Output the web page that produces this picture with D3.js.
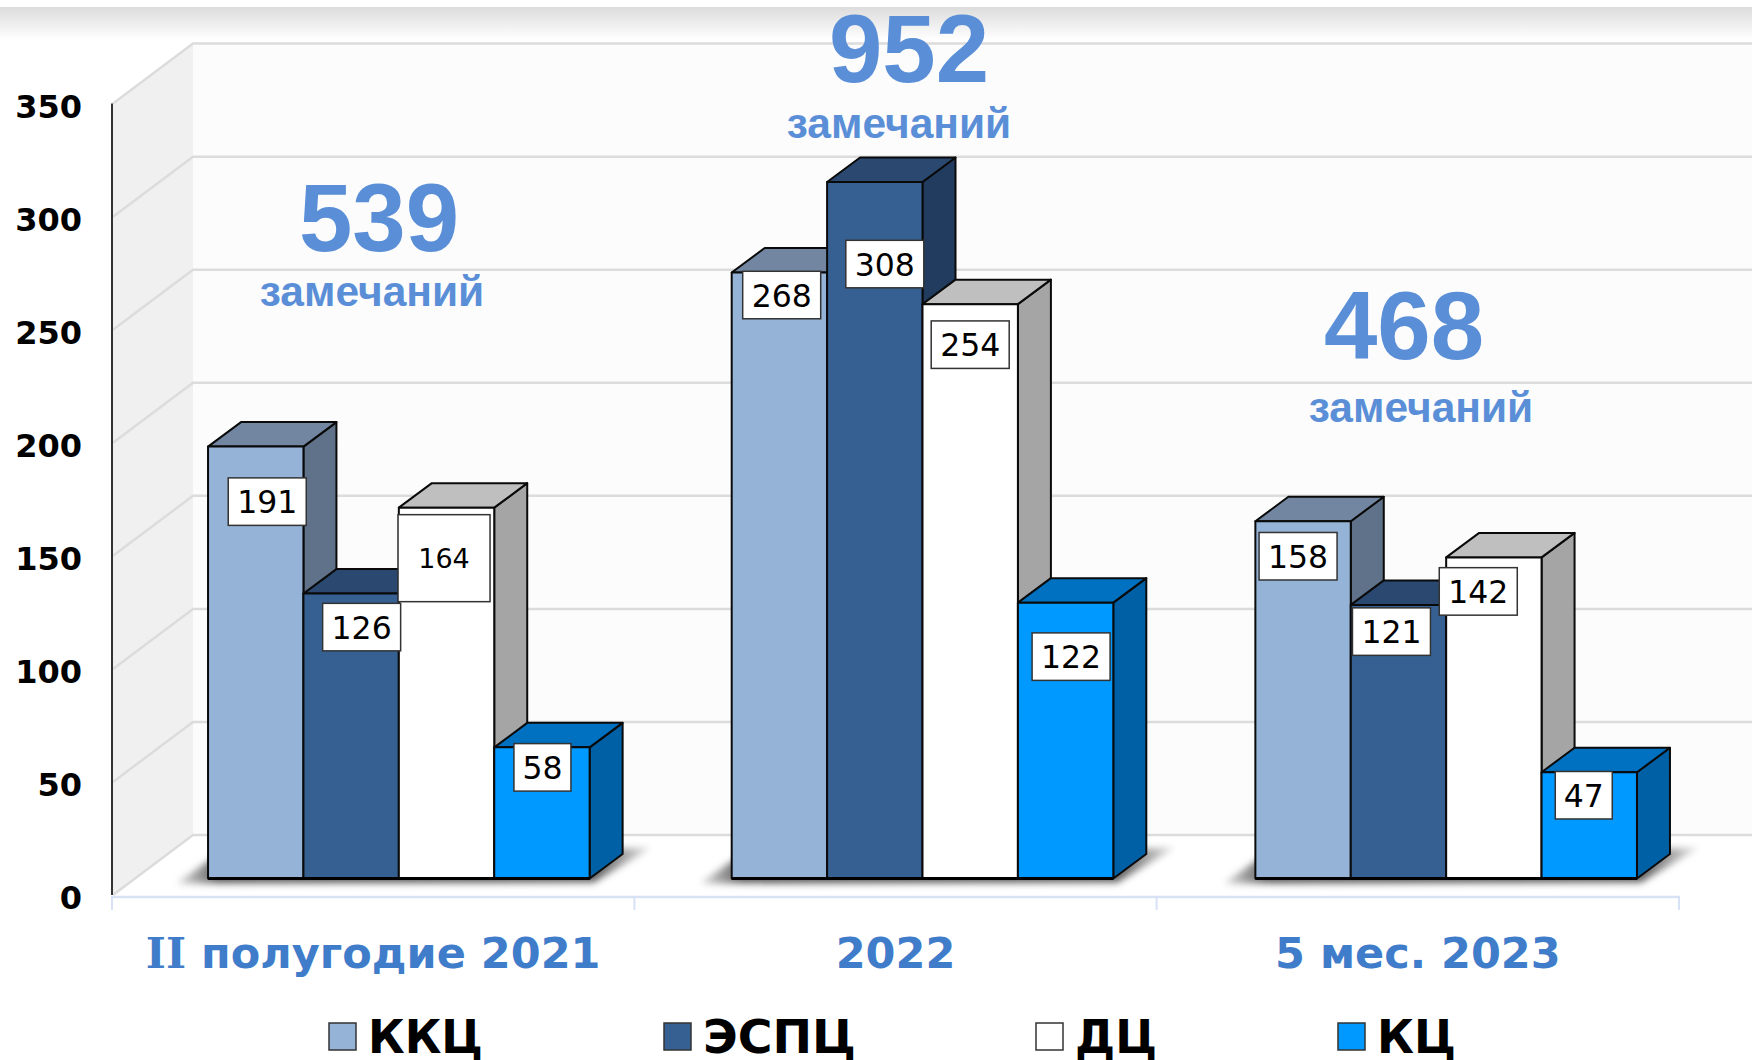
<!DOCTYPE html>
<html><head><meta charset="utf-8">
<style>html,body{margin:0;padding:0;background:#fff}svg{display:block}</style>
<script src="https://cdnjs.cloudflare.com/ajax/libs/d3/7.8.5/d3.min.js"></script>
</head><body><svg id="c" width="1752" height="1060"></svg>
<script>
const categories = ["II полугодие 2021", "2022", "5 мес. 2023"];
const seriesNames = ["ККЦ", "ЭСПЦ", "ДЦ", "КЦ"];
const kkc = [191, 268, 158];
const espc = [126, 308, 121];
const dc = [164, 254, 142];
const kc = [58, 122, 47];
const totals = [539, 952, 468];
const totalWord = "замечаний";
const yTicks = [0, 50, 100, 150, 200, 250, 300, 350];

const values = [kkc, espc, dc, kc];
const frontCol = ["#95b3d7", "#366092", "#ffffff", "#0099ff"];
const topCol = ["#7286a2", "#2a4870", "#bfbfbf", "#0070c0"];
const sideCol = ["#5f7289", "#223c5f", "#a5a5a5", "#0060a5"];
// label box centre offsets from each bar's front-top centre [series][category]
const labelNudge = [
  [[11.5, 55], [2.3, 22.5], [-5, 35]],
  [[10.5, 33.5], [10, 82], [-7, 26.7]],
  [[-2.5, 50.5], [0, 40.5], [-15.6, 34]],
  [[0.5, 20], [5.5, 54], [-5.5, 23]]
];

const svg = d3.select("#c");
const defs = svg.append("defs");
const tg = defs.append("linearGradient").attr("id", "topfade").attr("x1", 0).attr("x2", 0).attr("y1", 0).attr("y2", 1);
tg.append("stop").attr("offset", 0).attr("stop-color", "#dcdcdc");
tg.append("stop").attr("offset", 1).attr("stop-color", "#ffffff");
const sg = defs.append("linearGradient").attr("id", "shade").attr("x1", 0).attr("x2", 1).attr("y1", 0).attr("y2", 0);
[[0, "#e0e0e0"], [0.09, "#5e5e5e"], [0.88, "#5e5e5e"], [1, "#e8e8e8"]].forEach(s => sg.append("stop").attr("offset", s[0]).attr("stop-color", s[1]));
defs.append("filter").attr("id", "blur").attr("x", "-10%").attr("y", "-30%").attr("width", "120%").attr("height", "160%")
  .append("feGaussianBlur").attr("stdDeviation", 3.5);

const y = d3.scaleLinear().domain([0, 350]).range([895, 103.6]);
const depthX = 81, depthY = 60, barDX = 33, barDY = 24.5;
const baseY = 878.5, wallX = 112 + depthX;
const xAxisScale = d3.scaleBand().domain(categories).range([112, 1679]);
const xGroup = d3.scaleBand().domain(categories).range([137, 1708]).paddingInner(0.2713).paddingOuter(0.13565);
const xBar = d3.scaleBand().domain(d3.range(4)).range([0, xGroup.bandwidth()]);
const h = v => y(0) - y(v);

svg.append("rect").attr("x", 0).attr("y", 7).attr("width", 1752).attr("height", 33).attr("fill", "url(#topfade)");
svg.append("rect").attr("x", wallX).attr("y", y(350) - depthY).attr("width", 1752 - wallX).attr("height", y(0) - y(350)).attr("fill", "#fcfcfc");
svg.append("path").attr("d", d3.line()([[112, y(350)], [wallX, y(350) - depthY], [wallX, y(0) - depthY], [112, y(0)]])).attr("fill", "#f0f0f0");

const grid = svg.append("g").attr("fill", "none").attr("stroke", "#dcdcdc").attr("stroke-width", 2.5);
yTicks.forEach(t => {
  grid.append("path").attr("d", d3.line()([[113, y(t)], [wallX, y(t) - depthY], [1752, y(t) - depthY]]));
});

// shadows
const shadows = svg.append("g").attr("filter", "url(#blur)").attr("fill", "url(#shade)");
categories.forEach(c => {
  const x0 = xGroup(c), x1 = x0 + xGroup.bandwidth();
  shadows.append("path").attr("d", d3.line()([[x0 + 4, baseY - 20], [x0 - 32, baseY + 5], [x1 + 4, baseY + 4], [x1 + 62, baseY - 31], [x1 + 30, baseY - 30], [x1, baseY - 8]]));
});

// bars
categories.forEach((c, ci) => {
  const g = svg.append("g").attr("stroke", "#0a0a0a").attr("stroke-width", 2).attr("stroke-linejoin", "round");
  values.forEach((vals, si) => {
    const xl = xGroup(c) + xBar(si), w = xBar.bandwidth(), top = baseY - h(vals[ci]);
    g.append("path").attr("fill", sideCol[si]).attr("d", d3.line()([[xl + w, top], [xl + w + barDX, top - barDY], [xl + w + barDX, baseY - barDY], [xl + w, baseY]]) + "Z");
    g.append("path").attr("fill", topCol[si]).attr("d", d3.line()([[xl, top], [xl + barDX, top - barDY], [xl + w + barDX, top - barDY], [xl + w, top]]) + "Z");
    g.append("rect").attr("x", xl).attr("y", top).attr("width", w).attr("height", h(vals[ci])).attr("fill", frontCol[si]);
  });
  g.append("line").attr("x1", xGroup(c)).attr("x2", xGroup(c) + xGroup.bandwidth()).attr("y1", baseY).attr("y2", baseY).attr("stroke", "#000").attr("stroke-width", 3);
});

// axes
svg.append("line").attr("x1", 112).attr("x2", 112).attr("y1", y(350)).attr("y2", y(0)).attr("stroke", "#333").attr("stroke-width", 2);
const yAx = svg.append("g").attr("transform", "translate(82,2)")
  .call(d3.axisLeft(y).tickValues(yTicks).tickSize(0).tickPadding(0));
yAx.select(".domain").remove();
yAx.selectAll("text").attr("font-family", "'DejaVu Sans'").attr("font-weight", "bold").attr("font-size", 32).attr("fill", "#000").attr("dy", "0.36em");

const xAx = svg.append("g").attr("transform", "translate(0,896.5)")
  .call(d3.axisBottom(xAxisScale).tickSize(0).tickPadding(0));
xAx.select(".domain").attr("stroke", "#d7e3f5").attr("stroke-width", 2.5);
xAx.selectAll("text").attr("font-family", "'DejaVu Sans'").attr("font-weight", "bold").attr("font-size", 43).attr("fill", "#3f7cca").attr("y", 71.5).attr("dy", 0);
xAx.selectAll("text").filter(d => d.startsWith("II")).each(function(d) {
  const t = d3.select(this); t.text(null);
  t.append("tspan").attr("font-family", "'DejaVu Serif'").text("II");
  t.append("tspan").text(d.slice(2));
});
[112, 634.4, 1156.6, 1679].forEach(px => {
  svg.append("line").attr("x1", px).attr("x2", px).attr("y1", 896).attr("y2", 910).attr("stroke", "#d7e3f5").attr("stroke-width", 2);
});

// value labels
const labels = svg.append("g");
categories.forEach((c, ci) => {
  values.forEach((vals, si) => {
    const v = vals[ci];
    const cx = xGroup(c) + xBar(si) + xBar.bandwidth() / 2 + labelNudge[si][ci][0];
    const cy = baseY - h(v) + labelNudge[si][ci][1];
    const big = v === 164;
    const bw = big ? 92 : (v < 100 ? 57 : 78), bh = big ? 87 : 47.5;
    labels.append("rect").attr("x", cx - bw / 2).attr("y", cy - bh / 2).attr("width", bw).attr("height", bh).attr("fill", "#fff").attr("stroke", "#333").attr("stroke-width", 1.5);
    labels.append("text").attr("x", cx).attr("y", cy).attr("dy", "0.37em").attr("text-anchor", "middle")
      .attr("font-family", "'DejaVu Sans'").attr("font-size", big ? 27 : 31.5).attr("fill", "#000").text(v);
  });
});

// totals
const totalPos = [[379, 251, 372, 306], [909, 82, 899, 138], [1404, 358.5, 1421, 422]];
totals.forEach((t, i) => {
  const [nx, ny, wx, wy] = totalPos[i];
  svg.append("text").attr("x", nx).attr("y", ny).attr("text-anchor", "middle").attr("font-family", "'Liberation Sans'").attr("font-weight", "bold").attr("font-size", 96).attr("fill", "#5a8fd8").text(t);
  svg.append("text").attr("x", wx).attr("y", wy).attr("text-anchor", "middle").attr("font-family", "'Liberation Sans'").attr("font-weight", "bold").attr("font-size", 42.5).attr("fill", "#5a8fd8").text(totalWord);
});

// legend
const legendSwatchX = [329, 664, 1036, 1338];
const legendTextW = [115, 153, 82, 79];
seriesNames.forEach((n, i) => {
  svg.append("rect").attr("x", legendSwatchX[i]).attr("y", 1023).attr("width", 27).attr("height", 27).attr("fill", frontCol[i]).attr("stroke", "#333").attr("stroke-width", 1.5);
  svg.append("text").attr("x", legendSwatchX[i] + 39).attr("y", 1052.5).attr("font-family", "'DejaVu Sans'").attr("font-weight", "bold").attr("font-size", 47).attr("fill", "#000")
    .attr("textLength", legendTextW[i]).attr("lengthAdjust", "spacingAndGlyphs").text(n);
});
</script></body></html>
